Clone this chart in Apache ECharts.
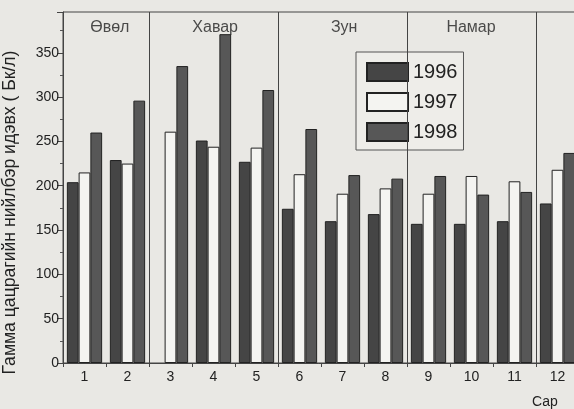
<!DOCTYPE html>
<html lang="mn">
<head>
    <meta charset="UTF-8">
    <title>Гамма цацрагийн нийлбэр идэвх</title>
    <script src="https://cdn.jsdelivr.net/npm/echarts@6/dist/echarts.min.js"></script>
    <style>
        html, body { margin: 0; padding: 0; background: #e9e8e4; }
        #chart { width: 574px; height: 409px; }
    </style>
</head>
<body>
    <div id="chart"></div>

    <script>
        // months (Сар)
        var months = ['1', '2', '3', '4', '5', '6', '7', '8', '9', '10', '11', '12'];
        var years = ['1996', '1997', '1998'];

        // values, Бк/л
        var v1996 = [204, 229, null, 251, 227, 174, 160, 168, 157, 157, 160, 180];
        var v1997 = [215, 225, 261, 244, 243, 213, 191, 197, 191, 211, 205, 218];
        var v1998 = [260, 296, 335, 371, 308, 264, 212, 208, 211, 190, 193, 237];

        // seasons: names, centre (in months) and boundaries
        var seasons = ['Өвөл', 'Хавар', 'Зун', 'Намар'];
        var seasonCenters = [1.1, 3.55, 6.55, 9.5];
        var seasonBounds = [2, 5, 8, 11];
        var seasonLabelY = 378;

        var font = 'Liberation Sans';
        var ink = '#222';

        var chart = echarts.init(document.getElementById('chart'));

        function barSeries(name, data, color) {
            return {
                name: name,
                type: 'bar',
                data: data.map(function (v) { return v == null ? '-' : v; }),
                barGap: '0%',
                barCategoryGap: '18%',
                itemStyle: { color: color, borderColor: '#222', borderWidth: 1 }
            };
        }

        var option = {
            backgroundColor: '#e9e8e4',
            animation: false,
            textStyle: { fontFamily: font },
            grid: {
                left: 63, top: 12, bottom: 46, width: 516,
                outerBoundsMode: 'none', containLabel: false,
                show: true, borderColor: '#444', borderWidth: 1
            },
            title: {
                text: 'Сар', left: 527, top: 390,
                textStyle: { fontFamily: font, fontSize: 14, fontWeight: 'normal', color: ink }
            },
            legend: {
                data: years,
                orient: 'vertical',
                left: 356, top: 52,
                icon: 'rect',
                itemWidth: 41, itemHeight: 18, itemGap: 10,
                padding: [10, 6, 8, 10],
                backgroundColor: '#eeede9',
                borderColor: '#555', borderWidth: 1,
                textStyle: { fontFamily: font, fontSize: 20, lineHeight: 19, color: ink }
            },
            xAxis: [{
                type: 'category',
                data: months,
                axisLine: { lineStyle: { color: '#444' } },
                axisTick: { show: true, length: 4, lineStyle: { color: '#444' } },
                axisLabel: { fontSize: 14, color: ink, margin: 7 }
            }, {
                type: 'value', min: 0, max: 12, show: false
            }],
            yAxis: {
                type: 'value',
                min: 0, max: 396, interval: 50,
                name: 'Гамма цацрагийн нийлбэр идэвх ( Бк/л)',
                nameLocation: 'middle', nameGap: 44,
                nameTextStyle: { fontFamily: font, fontSize: 17.6, color: ink, padding: [0, 50, 0, 0] },
                axisLine: { show: true, lineStyle: { color: '#444' } },
                axisTick: { show: true, length: 6, lineStyle: { color: '#444' } },
                minorTick: { show: true, splitNumber: 2, length: 3, lineStyle: { color: '#555' } },
                splitLine: { show: false },
                axisLabel: { fontSize: 14, color: ink, margin: 4, showMaxLabel: false }
            },
            series: [
                barSeries('1996', v1996, '#454545'),
                barSeries('1997', v1997, '#f4f4f1'),
                barSeries('1998', v1998, '#575757'),
                {
                    type: 'line',
                    xAxisIndex: 1,
                    data: [],
                    silent: true,
                    markLine: {
                        symbol: 'none',
                        silent: true,
                        label: { show: false },
                        lineStyle: { color: '#444', type: 'solid', width: 1 },
                        data: seasonBounds.map(function (b) { return { xAxis: b }; })
                    }
                },
                {
                    type: 'scatter',
                    xAxisIndex: 1,
                    symbolSize: 1,
                    itemStyle: { color: 'transparent' },
                    silent: true,
                    data: seasonCenters.map(function (c, i) { return { value: [c, seasonLabelY], name: seasons[i] }; }),
                    label: {
                        show: true, position: [0, 0],
                        align: 'center', verticalAlign: 'middle',
                        formatter: '{b}',
                        fontFamily: font, fontSize: 16, color: ink
                    }
                }
            ]
        };
        chart.setOption(option);
    </script>
</body>
</html>
